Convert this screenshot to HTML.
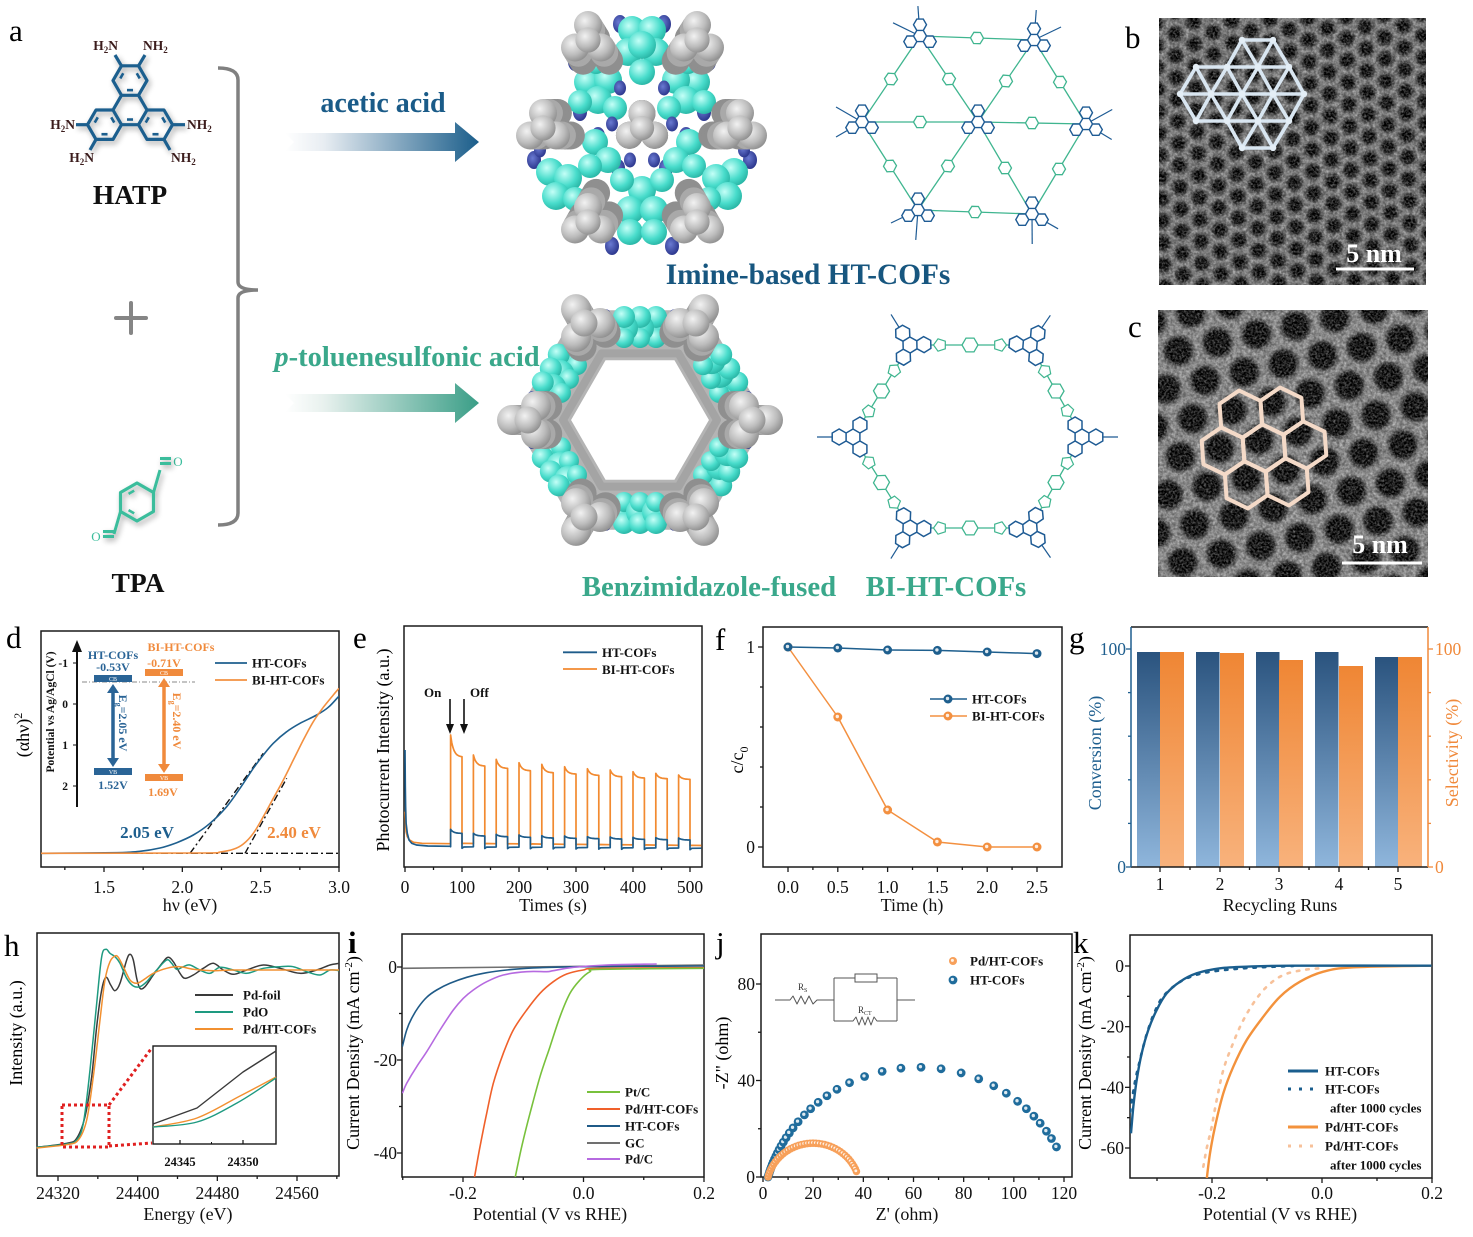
<!DOCTYPE html>
<html><head><meta charset="utf-8">
<style>
html,body{margin:0;padding:0;background:#fff;width:1473px;height:1237px;overflow:hidden}
svg{display:block}
text{font-family:"Liberation Serif","DejaVu Serif",serif}
</style></head><body>
<svg id="svg" width="1473" height="1237" viewBox="0 0 1473 1237" xmlns="http://www.w3.org/2000/svg">
<defs>
 <linearGradient id="ga1" x1="0" y1="0" x2="1" y2="0"><stop offset="0" stop-color="#ffffff"/><stop offset="0.2" stop-color="#e8edf2"/><stop offset="1" stop-color="#1b5e8b"/></linearGradient>
 <linearGradient id="ga2" x1="0" y1="0" x2="1" y2="0"><stop offset="0" stop-color="#ffffff"/><stop offset="0.2" stop-color="#e8f1ee"/><stop offset="1" stop-color="#3a9e87"/></linearGradient>
 <linearGradient id="gB" x1="0" y1="0" x2="0" y2="1"><stop offset="0" stop-color="#2a537e"/><stop offset="1" stop-color="#8fb6dc"/></linearGradient>
 <linearGradient id="gO" x1="0" y1="0" x2="0" y2="1"><stop offset="0" stop-color="#ef8634"/><stop offset="1" stop-color="#f8b27c"/></linearGradient>
 <radialGradient id="rg" cx="0.38" cy="0.35" r="0.7"><stop offset="0" stop-color="#f2f2f2"/><stop offset="0.6" stop-color="#bcbcbc"/><stop offset="1" stop-color="#8c8c8c"/></radialGradient>
 <radialGradient id="rc" cx="0.38" cy="0.35" r="0.7"><stop offset="0" stop-color="#c4fff7"/><stop offset="0.6" stop-color="#48dccb"/><stop offset="1" stop-color="#26b2a2"/></radialGradient>
 <radialGradient id="rn" cx="0.4" cy="0.4" r="0.7"><stop offset="0" stop-color="#6a7ad2"/><stop offset="1" stop-color="#242e84"/></radialGradient>
 <radialGradient id="pore" cx="0.5" cy="0.5" r="0.5"><stop offset="0" stop-color="#000"/><stop offset="0.6" stop-color="#060606"/><stop offset="1" stop-color="#000" stop-opacity="0"/></radialGradient>
 <radialGradient id="pore2" cx="0.5" cy="0.5" r="0.5"><stop offset="0" stop-color="#000"/><stop offset="0.72" stop-color="#050505"/><stop offset="1" stop-color="#000" stop-opacity="0"/></radialGradient>
 <pattern id="pb" width="22" height="38" patternUnits="userSpaceOnUse" patternTransform="rotate(-32 1290 150)">
  <rect width="22" height="38" fill="#848484"/>
  <circle cx="11" cy="9.5" r="10" fill="url(#pore)"/>
  <circle cx="0" cy="28.5" r="10" fill="url(#pore)"/>
  <circle cx="22" cy="28.5" r="10" fill="url(#pore)"/>
 </pattern>
 <pattern id="pc" width="40" height="69.28" patternUnits="userSpaceOnUse" patternTransform="rotate(-12 1293 443)">
  <rect width="40" height="69.28" fill="#8e8e8e"/>
  <circle cx="20" cy="17.32" r="17.3" fill="url(#pore2)"/>
  <circle cx="0" cy="51.96" r="17.3" fill="url(#pore2)"/>
  <circle cx="40" cy="51.96" r="17.3" fill="url(#pore2)"/>
 </pattern>
 <filter id="bl" x="-0.05" y="-0.05" width="1.1" height="1.1"><feGaussianBlur stdDeviation="1.4"/></filter>
 <filter id="nz" x="0" y="0" width="1" height="1"><feTurbulence type="fractalNoise" baseFrequency="0.45" numOctaves="2" seed="7"/><feColorMatrix type="matrix" values="0 0 0 0 1  0 0 0 0 1  0 0 0 0 1  1.6 0 0 0 -0.55"/></filter>
 <filter id="nz2" x="0" y="0" width="1" height="1"><feTurbulence type="fractalNoise" baseFrequency="0.3" numOctaves="2" seed="3"/><feColorMatrix type="matrix" values="0 0 0 0 0  0 0 0 0 0  0 0 0 0 0  1.4 0 0 0 -0.45"/></filter>
 <filter id="sh" x="-0.2" y="-0.2" width="1.4" height="1.4"><feGaussianBlur in="SourceAlpha" stdDeviation="3"/><feOffset dx="2" dy="3"/><feComponentTransfer><feFuncA type="linear" slope="0.35"/></feComponentTransfer><feMerge><feMergeNode/><feMergeNode in="SourceGraphic"/></feMerge></filter>
 <clipPath id="cb"><rect x="1159" y="18" width="267" height="267"/></clipPath>
 <clipPath id="cc"><rect x="1158" y="310" width="270" height="267"/></clipPath>
 <clipPath id="ci"><rect x="402" y="934" width="302" height="243"/></clipPath>
 <clipPath id="ck"><rect x="1130" y="935" width="302" height="243"/></clipPath>
 <clipPath id="cd"><rect x="41" y="631" width="298" height="236"/></clipPath>
</defs>

<text x="9" y="41" font-size="31">a</text>
<text x="1125" y="48" font-size="31">b</text>
<text x="1128" y="337" font-size="31">c</text>
<text x="6" y="648" font-size="31">d</text>
<text x="353" y="648" font-size="31">e</text>
<text x="715" y="650" font-size="31">f</text>
<text x="1069" y="648" font-size="31">g</text>
<text x="4" y="956" font-size="31">h</text>
<text x="348" y="953" font-size="31" font-weight="bold">i</text>
<text x="716" y="953" font-size="31">j</text>
<text x="1073" y="953" font-size="31">k</text>

<g font-size="13.5" fill="#3b1c1c" font-weight="bold">
 <text x="118" y="50" text-anchor="end">H<tspan dy="3" font-size="9">2</tspan><tspan dy="-3">N</tspan></text>
 <text x="143" y="50">NH<tspan dy="3" font-size="9">2</tspan></text>
 <text x="75" y="129" text-anchor="end">H<tspan dy="3" font-size="9">2</tspan><tspan dy="-3">N</tspan></text>
 <text x="187" y="129">NH<tspan dy="3" font-size="9">2</tspan></text>
 <text x="94" y="162" text-anchor="end">H<tspan dy="3" font-size="9">2</tspan><tspan dy="-3">N</tspan></text>
 <text x="171" y="162">NH<tspan dy="3" font-size="9">2</tspan></text>
</g>
<text x="130" y="204" font-size="27.5" font-weight="bold" text-anchor="middle" fill="#111">HATP</text>
<text x="138" y="592" font-size="27.5" font-weight="bold" text-anchor="middle" fill="#111">TPA</text>
<text x="178" y="466" font-size="13" fill="#3bbd9c" text-anchor="middle">O</text>
<text x="96" y="541" font-size="13" fill="#3bbd9c" text-anchor="middle">O</text>
<g stroke="#858585" stroke-width="4" stroke-linecap="round"><line x1="116" y1="318" x2="146" y2="318"/><line x1="131" y1="303" x2="131" y2="333"/></g>
<path d="M218 68 Q238 68 238 80 V282 Q238 290 258 290 Q238 290 238 298 V513 Q238 525 218 525" fill="none" stroke="#808080" stroke-width="3.5"/>
<polygon points="285,133 455,133 455,122 479,142 455,162 455,151 285,151 294,142" fill="url(#ga1)"/>
<polygon points="285,394 455,394 455,383 479,403 455,423 455,412 285,412 294,403" fill="url(#ga2)"/>
<text x="383" y="112" font-size="28" font-weight="bold" text-anchor="middle" fill="#1a5b88">acetic acid</text>
<text x="407" y="366" font-size="28.5" font-weight="bold" text-anchor="middle" fill="#3aa88b"><tspan font-style="italic">p</tspan>-toluenesulfonic acid</text>
<text x="808" y="284" font-size="29.3" font-weight="bold" text-anchor="middle" fill="#17567f">Imine-based HT-COFs</text>
<text x="709" y="596" font-size="28.8" font-weight="bold" text-anchor="middle" fill="#3aa88b">Benzimidazole-fused</text>
<text x="946" y="596" font-size="28.8" font-weight="bold" text-anchor="middle" fill="#3aa88b">BI-HT-COFs</text>

<g clip-path="url(#cb)">
 <rect x="1150" y="10" width="285" height="285" fill="url(#pb)" filter="url(#bl)"/>
 <rect x="1159" y="18" width="267" height="267" filter="url(#nz)" opacity="0.55"/>
 <rect x="1159" y="18" width="267" height="267" filter="url(#nz2)" opacity="0.5"/>
</g>
<g clip-path="url(#cc)">
 <rect x="1150" y="300" width="290" height="290" fill="url(#pc)" filter="url(#bl)"/>
 <rect x="1158" y="310" width="270" height="267" filter="url(#nz)" opacity="0.55"/>
 <rect x="1158" y="310" width="270" height="267" filter="url(#nz2)" opacity="0.5"/>
</g>
<g id="ovl"></g>
<line x1="1336" y1="269" x2="1414" y2="269" stroke="#fff" stroke-width="3"/>
<text x="1374" y="262" font-size="26" font-weight="bold" fill="#fff" text-anchor="middle">5 nm</text>
<line x1="1342" y1="563" x2="1422" y2="563" stroke="#fff" stroke-width="3"/>
<text x="1380" y="553" font-size="26" font-weight="bold" fill="#fff" text-anchor="middle">5 nm</text>

<text x="29" y="735" transform="rotate(-90 29 735)" text-anchor="middle" font-size="18">(αhν)<tspan dy="-7" font-size="12">2</tspan></text>
<text x="389" y="750" transform="rotate(-90 389 750)" text-anchor="middle" font-size="18">Photocurrent Intensity (a.u.)</text>
<text x="743" y="760" transform="rotate(-90 743 760)" text-anchor="middle" font-size="18">c/c<tspan dy="5" font-size="12">0</tspan></text>
<text x="1101" y="753" transform="rotate(-90 1101 753)" text-anchor="middle" font-size="18" fill="#1f5f8f">Conversion (%)</text>
<text x="1458" y="753" transform="rotate(-90 1458 753)" text-anchor="middle" font-size="18" fill="#f08a3c">Selectivity (%)</text>
<text x="22" y="1033" transform="rotate(-90 22 1033)" text-anchor="middle" font-size="18">Intensity (a.u.)</text>
<text x="359" y="1053" transform="rotate(-90 359 1053)" text-anchor="middle" font-size="18">Current Density (mA cm<tspan dy="-7" font-size="11">-2</tspan><tspan dy="7">)</tspan></text>
<text x="728" y="1053" transform="rotate(-90 728 1053)" text-anchor="middle" font-size="18">-Z" (ohm)</text>
<text x="1091" y="1053" transform="rotate(-90 1091 1053)" text-anchor="middle" font-size="18">Current Density (mA cm<tspan dy="-7" font-size="11">-2</tspan><tspan dy="7">)</tspan></text>

<text x="54" y="712" transform="rotate(-90 54 712)" text-anchor="middle" font-size="11.5" font-weight="bold" fill="#111">Potential vs Ag/AgCl (V)</text>
<g font-size="12" font-weight="bold" text-anchor="middle">
 <text x="113" y="659" fill="#2a6496">HT-COFs</text>
 <text x="113" y="671" fill="#2a6496">-0.53V</text>
 <text x="113" y="789" fill="#2a6496">1.52V</text>
 <text x="181" y="651" fill="#f08a3c">BI-HT-COFs</text>
 <text x="164" y="667" fill="#f08a3c">-0.71V</text>
 <text x="163" y="796" fill="#f08a3c">1.69V</text>
</g>
<text x="119" y="723" transform="rotate(90 119 723)" text-anchor="middle" font-size="12" font-weight="bold" fill="#2a6496">E<tspan dy="3" font-size="8">g</tspan><tspan dy="-3">=2.05 eV</tspan></text>
<text x="173" y="721" transform="rotate(90 173 721)" text-anchor="middle" font-size="12" font-weight="bold" fill="#f08a3c">E<tspan dy="3" font-size="8">g</tspan><tspan dy="-3">=2.40 eV</tspan></text>

<text x="798" y="990" font-size="9" fill="#333">R<tspan dy="2" font-size="6">S</tspan></text>
<text x="858" y="1013" font-size="9" fill="#333">R<tspan dy="2" font-size="6">CT</tspan></text>
<text x="866" y="981" font-size="7" fill="#333" text-anchor="middle">CPE</text>

<g id="dyn"></g>
</svg>
<script>
(function(){
const NS='http://www.w3.org/2000/svg';
const SV=document.getElementById('dyn');
function E(t,a,p,s){const e=document.createElementNS(NS,t);for(const k in a)e.setAttribute(k,a[k]);if(s!=null)e.textContent=s;(p||SV).appendChild(e);return e;}
function L(d0,d1,p0,p1){return function(v){return p0+(v-d0)*(p1-p0)/(d1-d0);};}
function f1(v){return (Math.round(v*10)/10).toString();}
function sm(P){let d='M'+f1(P[0][0])+' '+f1(P[0][1]);for(let i=0;i<P.length-1;i++){const p0=P[i>0?i-1:i],p1=P[i],p2=P[i+1],p3=P[i+2<P.length?i+2:i+1];d+=' C'+f1(p1[0]+(p2[0]-p0[0])/6)+' '+f1(p1[1]+(p2[1]-p0[1])/6)+' '+f1(p2[0]-(p3[0]-p1[0])/6)+' '+f1(p2[1]-(p3[1]-p1[1])/6)+' '+f1(p2[0])+' '+f1(p2[1]);}return d;}
function pl(P){return 'M'+P.map(function(p){return f1(p[0])+' '+f1(p[1]);}).join(' L');}
function Z(P,ox,oy){return P.map(function(p){return [p[0]/3+ox,p[1]/3+oy];});}
function T(x,y,s,o,p){return E('text',Object.assign({x:x,y:y,'font-size':17.5,'text-anchor':'middle',fill:'#111'},o||{}),p,s);}
function frame(x0,y0,x1,y1){E('rect',{x:x0,y:y0,width:x1-x0,height:y1-y0,fill:'none',stroke:'#1a1a1a','stroke-width':1.5});}
function tx(x,y,len,c){E('line',{x1:x,y1:y,x2:x,y2:y+len,stroke:c||'#1a1a1a','stroke-width':1.3});}
function ty(x,y,len,c){E('line',{x1:x,y1:y,x2:x-len,y2:y,stroke:c||'#1a1a1a','stroke-width':1.3});}
function cur(d,c,w,ex,p){return E('path',Object.assign({d:d,fill:'none',stroke:c,'stroke-width':w||1.6,'stroke-linejoin':'round'},ex||{}),p);}
function hexPts(cx,cy,r,rot){const p=[];for(let i=0;i<6;i++){const a=(rot+60*i)*Math.PI/180;p.push([cx+r*Math.cos(a),cy-r*Math.sin(a)]);}return p;}
function hexPath(cx,cy,r,rot){return pl(hexPts(cx,cy,r,rot))+' Z';}
function polyPath(cx,cy,r,n,rot){const p=[];for(let i=0;i<n;i++){const a=(rot+360/n*i)*Math.PI/180;p.push([cx+r*Math.cos(a),cy-r*Math.sin(a)]);}return pl(p)+' Z';}
function triph(cx,cy,s,rot){let d=hexPath(cx,cy,s,rot);const D=s*Math.sqrt(3);[90,210,330].forEach(function(a){const A=(a+rot)*Math.PI/180;d+=' '+hexPath(cx+D*Math.cos(A),cy-D*Math.sin(A),s,rot);});return d;}
function leg(x1,x2,y,c,w,ex){E('line',Object.assign({x1:x1,y1:y,x2:x2,y2:y,stroke:c,'stroke-width':w||2},ex||{}));}
function LT(x,y,s,c){T(x,y,s,{'font-size':13,'font-weight':'bold','text-anchor':'start',fill:c||'#111'});}

const GA=E('g',{filter:'url(#sh)'});
const B='#1d5f8e';
E('path',{d:triph(130,110,17,0),fill:'none',stroke:B,'stroke-width':3.2,'stroke-linejoin':'round'},GA);
[[138.5,65.9,145,55],[121.5,65.9,115,55],[87.5,124.7,76,124.7],[96,139.4,90,150],[172.5,124.7,185,124.7],[164,139.4,170,150]].forEach(function(b){E('line',{x1:b[0],y1:b[1],x2:b[2],y2:b[3],stroke:B,'stroke-width':3.2},GA);});
[[130,80.6],[104.5,124.7],[155.5,124.7],[130,110]].forEach(function(c,j){const P=hexPts(c[0],c[1],11,0);[0,2,4].forEach(function(i){if(j==3&&i!=4)return;const a=P[i],b=P[(i+1)%6];const mx=(a[0]+b[0])/2,my=(a[1]+b[1])/2;E('line',{x1:mx+(a[0]-mx)*0.55,y1:my+(a[1]-my)*0.55,x2:mx+(b[0]-mx)*0.55,y2:my+(b[1]-my)*0.55,stroke:B,'stroke-width':2.6},GA);});});
const GT=E('g',{filter:'url(#sh)'});
const TC='#3bbd9c';
E('path',{d:hexPath(137,502,19,30),fill:'none',stroke:TC,'stroke-width':3.2,'stroke-linejoin':'round'},GT);
E('path',{d:'M153.5 492.5 L160 470 M160 458.5 L171 458.5 M160 463.5 L171 463.5 M120.5 511.5 L114 534 M114 531.5 L103 531.5 M114 536.5 L103 536.5',fill:'none',stroke:TC,'stroke-width':3},GT);
(function(){const P=hexPts(137,502,13,30);[1,3].forEach(function(i){const a=P[i],b=P[(i+1)%6];const mx=(a[0]+b[0])/2,my=(a[1]+b[1])/2;E('line',{x1:mx+(a[0]-mx)*0.5,y1:my+(a[1]-my)*0.5,x2:mx+(b[0]-mx)*0.5,y2:my+(b[1]-my)*0.5,stroke:TC,'stroke-width':2.6},GT);});})();

const M1=E('g',{});
function circ(cx,cy,r,f,p){E('circle',{cx:cx,cy:cy,r:r,fill:f},p);}
function tri(cx,cy,r,d,f,rot,p){[rot,rot+120,rot+240].forEach(function(a){const A=a*Math.PI/180;circ(cx+d*Math.cos(A),cy-d*Math.sin(A),r,f,p);});circ(cx,cy,r*0.9,f,p);}
function grayNode(cx,cy,r,d,rot,dx,dy,p){for(let k=5;k>=1;k--){tri(cx+dx*k,cy+dy*k,r,d,k>2?'#8f8f8f':'#a9a9a9',rot,p);}tri(cx,cy,r,d,'url(#rg)',rot,p);}
const gc=[642,128];
const nodes1=[[588,40],[697,40],[543,128],[740,128],[588,222],[697,222]];
[[612,62],[672,62],[575,62],[709,62],[580,112],[704,112],[600,190],[684,190],[618,168],[666,168],[534,160],[750,160],[612,246],[672,246],[598,136],[686,136],[620,24],[664,24]].forEach(function(n){E('ellipse',{cx:n[0],cy:n[1],rx:7,ry:9,fill:'url(#rn)'},M1);});
const cy1=[[632,30,14],[652,30,14],[628,52,14],[656,52,14],[642,72,13],[642,45,14],
[642,190,14],[630,210,14],[654,210,14],[630,232,13],[654,232,13],
[588,82,14],[608,80,14],[598,100,14],[615,108,12],[580,102,12],[596,64,10],
[696,82,14],[676,80,14],[686,100,14],[669,108,12],[704,102,12],[688,64,10],
[595,142,13],[608,160,13],[590,166,12],[689,142,13],[676,160,13],[694,166,12],
[622,180,12],[662,180,12],
[550,172,14],[568,178,14],[556,196,14],[575,199,12],[734,172,14],[716,178,14],[728,196,14],[709,199,12]];
cy1.forEach(function(c){circ(c[0],c[1],c[2],'url(#rc)',M1);});
[[620,88],[664,88],[612,124],[672,124],[630,160],[654,160],[540,150],[744,150],[592,200],[692,200]].forEach(function(n){E('ellipse',{cx:n[0],cy:n[1],rx:6,ry:7.5,fill:'url(#rn)'},M1);});
nodes1.forEach(function(n){const dx=(gc[0]-n[0])*0.03,dy=(gc[1]-n[1])*0.03;grayNode(n[0],n[1],14,15,90,dx,dy,M1);});
grayNode(642,128,13.5,14.5,90,0,0,M1);

const M2=E('g',{});
const C2=[640,420];
const V2=[];
for(let i=0;i<6;i++){const a=i*60*Math.PI/180;V2.push([C2[0]+104*Math.cos(a),C2[1]-104*Math.sin(a)]);}
E('path',{d:pl(V2.map(function(v){return [C2[0]+(v[0]-C2[0])*0.94,C2[1]+(v[1]-C2[1])*0.94];}))+' Z',fill:'none',stroke:'#b4b4b4','stroke-width':50,'stroke-linejoin':'round'},M2);
E('path',{d:pl(V2.map(function(v){return [C2[0]+(v[0]-C2[0])*0.74,C2[1]+(v[1]-C2[1])*0.74];}))+' Z',fill:'none',stroke:'#9a9a9a','stroke-width':8,'stroke-linejoin':'round',opacity:0.6},M2);
for(let i=0;i<6;i++){const a=(30+i*60)*Math.PI/180;const mx=C2[0]+92*Math.cos(a),my=C2[1]-92*Math.sin(a);const tx_=-Math.sin(a),ty_=-Math.cos(a);
 [[-32,1],[32,1]].forEach(function(o){E('ellipse',{cx:mx+tx_*o[0],cy:my+ty_*o[0],rx:6.5,ry:8,fill:'url(#rn)'},M2);});
 [[-34,-16],[34,-16],[-34,16],[34,16]].forEach(function(o){const rr=o[1]*Math.cos(a),r2=-o[1]*Math.sin(a);E('ellipse',{cx:mx+tx_*o[0]+rr*0.8,cy:my+ty_*o[0]+r2*0.8,rx:5,ry:6,fill:'url(#rn)'},M2);});
 [-16,0,16].forEach(function(t){circ(mx+tx_*t,my+ty_*t,14,'url(#rc)',M2);circ(mx+tx_*t+Math.cos(a)*11,my+ty_*t-Math.sin(a)*11,11,'url(#rc)',M2);circ(mx+tx_*t-Math.cos(a)*10,my+ty_*t+Math.sin(a)*10,10,'url(#rc)',M2);});
}
V2.forEach(function(v,i){const a=i*60;const vx=C2[0]+112*Math.cos(a*Math.PI/180),vy=C2[1]-112*Math.sin(a*Math.PI/180);grayNode(vx,vy,15,16,a,-(vx-C2[0])*0.02,-(vy-C2[1])*0.02,M2);});

const S1=E('g',{});
const GR='#3fb58f',BL='#1e5b94';
function link(a,b,r,p){E('line',{x1:a[0],y1:a[1],x2:b[0],y2:b[1],stroke:GR,'stroke-width':1.3},p);const mx=(a[0]+b[0])/2,my=(a[1]+b[1])/2,ang=Math.atan2(-(b[1]-a[1]),b[0]-a[0])*180/Math.PI;E('path',{d:hexPath(mx,my,r,ang),fill:'#fff',stroke:GR,'stroke-width':1.3},p);}
const N1=[[920,36],[1034,40],[862,122],[978,122],[1086,124],[918,210],[1032,214]];
[[0,1],[0,2],[1,4],[2,5],[4,6],[5,6],[3,0],[3,1],[3,2],[3,4],[3,5],[3,6]].forEach(function(l){link(N1[l[0]],N1[l[1]],6.5,S1);});
N1.forEach(function(n,i){if(i!=3){const dx=n[0]-978,dy=n[1]-122,L_=Math.hypot(dx,dy);const ux=dx/L_,uy=dy/L_;[[-0.5,0.866],[0.5,0.866]].forEach(function(r){const vx=ux*r[1]-uy*r[0],vy=uy*r[1]+ux*r[0];E('line',{x1:n[0],y1:n[1],x2:n[0]+vx*30,y2:n[1]+vy*30,stroke:BL,'stroke-width':1.2},S1);});}
 E('path',{d:triph(n[0],n[1],6.5,0),fill:'#fff',stroke:BL,'stroke-width':1.4},S1);});

const S2=E('g',{});
const Q=[[910,345],[1030,345],[1082,437],[1030,528],[910,528],[853,437]];
for(let i=0;i<6;i++){const a=Q[i],b=Q[(i+1)%6];link(a,b,8,S2);const dx=b[0]-a[0],dy=b[1]-a[1],Ln=Math.hypot(dx,dy);[[a,1],[b,-1]].forEach(function(o){const px=o[0][0]+dx/Ln*30*o[1],py=o[0][1]+dy/Ln*30*o[1];E('path',{d:polyPath(px,py,6.5,5,Math.atan2(-dy*o[1],dx*o[1])*180/Math.PI+180),fill:'#fff',stroke:GR,'stroke-width':1.2},S2);});}
Q.forEach(function(n){const dx=n[0]-967,dy=n[1]-437,L_=Math.hypot(dx,dy);E('line',{x1:n[0],y1:n[1],x2:n[0]+dx/L_*36,y2:n[1]+dy/L_*36,stroke:BL,'stroke-width':1.2},S2);E('path',{d:triph(n[0],n[1],8,Math.atan2(-dy,dx)*180/Math.PI-90),fill:'#fff',stroke:BL,'stroke-width':1.5},S2);});

const OV=document.getElementById('ovl');
const rows=[[40,[1242,1273]],[67,[1196,1227,1258,1289]],[94,[1180,1211,1242,1273,1304]],[121,[1196,1227,1258,1289]],[148,[1242,1273]]];
const pts=[];rows.forEach(function(r){r[1].forEach(function(x){pts.push([x,r[0]]);});});
for(let i=0;i<pts.length;i++)for(let j=i+1;j<pts.length;j++){const d=Math.hypot(pts[i][0]-pts[j][0],pts[i][1]-pts[j][1]);if(d<33)E('line',{x1:pts[i][0],y1:pts[i][1],x2:pts[j][0],y2:pts[j][1],stroke:'#d9e6f1','stroke-width':3.6,'stroke-linecap':'round'},OV);}
pts.forEach(function(p){E('circle',{cx:p[0],cy:p[1],r:3.2,fill:'#e4eef6'},OV);});
const hc=[1264,448],a1=[41,-3],a2=[17.8,-36.9];
[[0,0],[1,0],[-1,0],[0,1],[0,-1],[1,-1],[-1,1]].forEach(function(k){const cx=hc[0]+k[0]*a1[0]+k[1]*a2[0],cy=hc[1]+k[0]*a1[1]+k[1]*a2[1];E('path',{d:hexPath(cx,cy,23.7,34.2),fill:'none',stroke:'#f4dac8','stroke-width':4,'stroke-linejoin':'round'},OV);});

(function(){
frame(41,631,339,867);
const fx=L(1.5,3,104,339);
[1.5,2,2.5,3].forEach(function(v){tx(fx(v),867,5);T(fx(v),893,v.toFixed(1));});
[1.25,1.75,2.25,2.75].forEach(function(v){tx(fx(v),867,3);});
T(190,911,'hν (eV)',{'font-size':18});
const g=E('g',{'clip-path':'url(#cd)'});
cur('M41 853.3 L339 853.3','#111',1.4,{'stroke-dasharray':'7 3 2 3'},g);
cur(pl(Z([[570,700],[790,400]],0,620)),'#111',1.4,{'stroke-dasharray':'7 3 2 3'},g);
cur(pl(Z([[735,700],[860,475]],0,620)),'#111',1.4,{'stroke-dasharray':'7 3 2 3'},g);
cur(sm(Z([[122,700],[350,698],[420,694],[480,684],[530,668],[580,645],[630,610],[680,560],[720,505],[760,445],[790,405],[820,370],[860,335],[900,310],[950,285],[985,262],[1017,228]],0,620)),'#1e5f8e',1.6,{},g);
cur(sm(Z([[122,700],[600,699],[660,696],[700,688],[730,672],[760,640],[790,590],[820,535],[850,480],[880,420],[910,360],[940,305],[970,262],[1000,225],[1017,205]],0,620)),'#f39040',1.6,{},g);
T(147,838,'2.05 eV',{'font-size':17,'font-weight':'bold',fill:'#1e5f8e'});
T(294,838,'2.40 eV',{'font-size':17,'font-weight':'bold',fill:'#f08a3c'});
leg(215,247,663,'#1e5f8e',1.8);LT(252,667.5,'HT-COFs');
leg(215,247,680,'#f39040',1.8);LT(252,684.5,'BI-HT-COFs');
E('line',{x1:77,y1:807,x2:77,y2:650,stroke:'#111','stroke-width':2});
E('polygon',{points:'72,652 82,652 77,640',fill:'#111'});
[['-1',663],['0',704],['1',745],['2',786]].forEach(function(t){T(68,t[1]+4,t[0],{'font-size':11.5,'font-weight':'bold','text-anchor':'end'});E('line',{x1:73,y1:t[1],x2:77,y2:t[1],stroke:'#111','stroke-width':1});});
E('line',{x1:82,y1:682,x2:195,y2:682,stroke:'#8a8a8a','stroke-width':1.1,'stroke-dasharray':'5 2 1 2'});
E('rect',{x:94,y:675,width:38,height:7,fill:'#2a6496'});T(113,681,'CB',{'font-size':6,fill:'#fff'});
E('rect',{x:94,y:768,width:38,height:7,fill:'#2a6496'});T(113,774,'VB',{'font-size':6,fill:'#fff'});
E('rect',{x:145,y:669,width:38,height:7,fill:'#f08a3c'});T(164,675,'CB',{'font-size':6,fill:'#fff'});
E('rect',{x:145,y:774,width:38,height:7,fill:'#f08a3c'});T(164,780,'VB',{'font-size':6,fill:'#fff'});
E('line',{x1:113,y1:692,x2:113,y2:759,stroke:'#2a6496','stroke-width':3.5});
E('polygon',{points:'107,693 119,693 113,684',fill:'#2a6496'});E('polygon',{points:'107,758 119,758 113,767',fill:'#2a6496'});
E('line',{x1:164,y1:686,x2:164,y2:765,stroke:'#f08a3c','stroke-width':3.5});
E('polygon',{points:'158,687 170,687 164,678',fill:'#f08a3c'});E('polygon',{points:'158,764 170,764 164,773',fill:'#f08a3c'});
})();

(function(){
frame(404,626,702,867);
const fx=L(0,500,405,690);
for(let v=0;v<=500;v+=100){tx(fx(v),867,5);T(fx(v),893,String(v));}
for(let v=50;v<=500;v+=100)tx(fx(v),867,3);
T(553,911,'Times (s)',{'font-size':18});
const o=[],b=[];
[[0,575],[1,610],[2,635],[4,650],[8,660],[15,667],[30,670],[79.9,671]].forEach(function(p){o.push(p);});
[[0,390],[0.5,500],[1,560],[2,610],[4,640],[7,660],[12,670],[20,675],[40,678],[79.9,679]].forEach(function(p){b.push(p);});
const po=[345,405,418,428,433,440,446,450,455,460,465],eo=[410,438,445,452,458,462,466,470,474,476,478];
const pb=[628,640,643,645,647,648,650,651,652,653,654],eb=[640,648,650,652,654,655,656,657,658,659,660];
for(let k=0;k<11;k++){const ton=80+40*k,toff=ton+20;const dko=670+0.6*k,dkb=680+0.4*k;
 o.push([ton,dko]);b.push([ton,dkb]);
 for(let t=0;t<=20;t++){const f=(1-Math.exp(-t/5))/(1-Math.exp(-4));o.push([ton+t,po[k]+(eo[k]-po[k])*f]);b.push([ton+t,pb[k]+(eb[k]-pb[k])*f]);}
 o.push([toff,dko+1]);b.push([toff,dkb+5]);
 o.push([toff+3,dko]);b.push([toff+3,dkb+1]);
 const nx=k<10?ton+40:520;o.push([nx-0.1,dko+0.5]);b.push([nx-0.1,dkb+0.5]);}
const M=function(P){return P.map(function(p){return [fx(p[0]),p[1]/3+620];});};
cur(pl(M(o)),'#f28a30',1.7);
cur(pl(M(b)),'#1e5c8a',1.7);
leg(563,597,652.3,'#1e5c8a',1.8);LT(602,657,'HT-COFs');
leg(563,597,669,'#f28a30',1.8);LT(602,674,'BI-HT-COFs');
LT(424,697,'On');LT(470,697,'Off');
[450,464].forEach(function(x){E('line',{x1:x,y1:699,x2:x,y2:726,stroke:'#111','stroke-width':1.6});E('polygon',{points:(x-4)+',724 '+(x+4)+',724 '+x+',734',fill:'#111'});});
})();

(function(){
frame(763,627,1062,867);
const fx=L(0,2.5,788,1037),fy=L(0,1,847,647);
for(let i=0;i<=5;i++){const v=i*0.5;tx(fx(v),867,5);T(fx(v),893,v.toFixed(1));}
for(let i=0;i<5;i++)tx(fx(i*0.5+0.25),867,3);
ty(763,fy(0),5);ty(763,fy(1),5);[0.2,0.4,0.6,0.8].forEach(function(v){ty(763,fy(v),3);});
T(755,fy(0)+6,'0',{'text-anchor':'end'});T(755,fy(1)+6,'1',{'text-anchor':'end'});
T(912,911,'Time (h)',{'font-size':18});
const t=[0,0.5,1,1.5,2,2.5],h=[1,0.995,0.985,0.983,0.975,0.967],bi=[1,0.65,0.185,0.025,0,0];
function mk(x,y,c){E('circle',{cx:x,cy:y,r:4.5,fill:c});E('circle',{cx:x-0.5,cy:y-0.5,r:1.7,fill:'#fff',opacity:0.85});}
cur(pl(t.map(function(v,i){return [fx(v),fy(bi[i])];})),'#f39040',1.5);
cur(pl(t.map(function(v,i){return [fx(v),fy(h[i])];})),'#1e5f8e',1.5);
t.forEach(function(v,i){mk(fx(v),fy(bi[i]),'#f39040');mk(fx(v),fy(h[i]),'#1e5f8e');});
leg(930,967,699,'#1e5f8e',1.6);mk(948,699,'#1e5f8e');LT(972,703.5,'HT-COFs');
leg(930,967,716,'#f39040',1.6);mk(948,716,'#f39040');LT(972,720.5,'BI-HT-COFs');
})();

(function(){
const fy=L(0,100,867,649);
const bars=[[1137,652,1160,652],[1196,652,1220,653],[1256,652,1279,660],[1315,652,1339,666],[1375,657,1398,657]];
bars.forEach(function(b){E('rect',{x:b[0],y:b[1],width:23.5,height:867-b[1],fill:'url(#gB)'});E('rect',{x:b[2],y:b[3],width:24,height:867-b[3],fill:'url(#gO)'});});
E('line',{x1:1131,y1:627,x2:1428,y2:627,stroke:'#1a1a1a','stroke-width':1.5});
E('line',{x1:1131,y1:867,x2:1428,y2:867,stroke:'#1a1a1a','stroke-width':1.5});
E('line',{x1:1131,y1:627,x2:1131,y2:867,stroke:'#1f5f8f','stroke-width':1.5});
E('line',{x1:1428,y1:627,x2:1428,y2:867,stroke:'#f08a3c','stroke-width':1.5});
[1160,1220,1279,1339,1398].forEach(function(x,i){tx(x,867,5);T(x,890,String(i+1));});
[1190,1249.5,1309,1368.5].forEach(function(x){tx(x,867,3);});
[0,100].forEach(function(v){ty(1131,fy(v),5,'#1f5f8f');E('line',{x1:1428,y1:fy(v),x2:1433,y2:fy(v),stroke:'#f08a3c','stroke-width':1.3});});
[20,40,60,80].forEach(function(v){ty(1131,fy(v),3,'#1f5f8f');E('line',{x1:1428,y1:fy(v),x2:1431,y2:fy(v),stroke:'#f08a3c','stroke-width':1.3});});
T(1126,655,'100',{'text-anchor':'end',fill:'#1f5f8f'});T(1126,873,'0',{'text-anchor':'end',fill:'#1f5f8f'});
T(1435,655,'100',{'text-anchor':'start',fill:'#f08a3c'});T(1435,873,'0',{'text-anchor':'start',fill:'#f08a3c'});
T(1280,911,'Recycling Runs',{'font-size':18});
})();

(function(){
frame(37,933,339,1176);
const fx=L(24320,24560,58,297);
[24320,24400,24480,24560].forEach(function(v){tx(fx(v),1176,5);T(fx(v),1199,String(v));});
[24360,24440,24520,24600].forEach(function(v){if(fx(v)<339)tx(fx(v),1176,3);});
T(188,1220,'Energy (eV)',{'font-size':18});
const oy=920;
cur(sm(Z([[110,682],[200,670],[230,655],[255,590],[275,470],[290,320],[305,210],[318,172],[332,195],[345,212],[360,190],[380,120],[390,103],[400,120],[410,175],[420,205],[435,200],[460,165],[490,125],[505,112],[520,125],[540,160],[555,175],[580,165],[610,145],[640,130],[670,150],[700,163],[740,150],[790,135],[840,145],[900,160],[950,150],[990,135],[1017,130]],0,oy)),'#3a3a3a',1.5);
cur(sm(Z([[110,682],[200,672],[230,660],[250,610],[270,450],[290,250],[305,110],[318,88],[330,100],[345,110],[360,130],[380,175],[400,198],[420,200],[440,185],[470,150],[500,120],[515,130],[530,148],[550,140],[570,135],[600,150],[630,160],[660,142],[700,150],[740,160],[790,145],[840,140],[880,140],[920,155],[960,165],[990,150],[1017,152]],0,oy)),'#1e9a80',1.5);
cur(sm(Z([[110,684],[200,674],[235,660],[260,600],[280,470],[300,300],[315,180],[330,125],[345,108],[355,112],[370,140],[390,180],[410,190],[430,180],[460,160],[500,145],[540,140],[580,148],[640,152],[700,150],[800,150],[900,150],[1017,150]],0,oy)),'#f29030',1.5);
leg(195,233,995,'#3a3a3a',2);LT(243,999.5,'Pd-foil');
leg(195,233,1012,'#1e9a80',2);LT(243,1016.5,'PdO');
leg(195,233,1029,'#f29030',2);LT(243,1033.5,'Pd/HT-COFs');
E('rect',{x:62,y:1105,width:47,height:42,fill:'none',stroke:'#e02020','stroke-width':3,'stroke-dasharray':'3 3'});
E('line',{x1:109,y1:1105,x2:151,y2:1049,stroke:'#e02020','stroke-width':3,'stroke-dasharray':'3 3'});
E('line',{x1:109,y1:1146,x2:152,y2:1143,stroke:'#e02020','stroke-width':3,'stroke-dasharray':'3 3'});
E('rect',{x:153,y:1046,width:123,height:98,fill:'#fff',stroke:'#1a1a1a','stroke-width':1.4});
cur(pl([[153,1124],[197,1108],[243,1072],[276,1051]]),'#3a3a3a',1.4);
cur(sm([[153,1127],[197,1118],[240,1096],[276,1077]]),'#f29030',1.4);
cur(sm([[153,1127],[197,1122],[237,1103],[276,1078]]),'#1e9a80',1.4);
[180,243].forEach(function(x){E('line',{x1:x,y1:1144,x2:x,y2:1140,stroke:'#111','stroke-width':1.2});});
E('line',{x1:211.5,y1:1144,x2:211.5,y2:1142,stroke:'#111','stroke-width':1});
T(180,1166,'24345',{'font-size':12.5,'font-weight':'bold'});T(243,1166,'24350',{'font-size':12.5,'font-weight':'bold'});
})();

(function(){
frame(402,934,704,1177);
const fx=L(-0.2,0.2,463,704),fy=L(0,-40,967,1153);
[-0.2,0,0.2].forEach(function(v){tx(fx(v),1177,5);T(fx(v),1199,v.toFixed(1));});
[-0.3,-0.1,0.1].forEach(function(v){tx(fx(v),1177,3);});
[0,-20,-40].forEach(function(v){ty(402,fy(v),5);T(397,fy(v)+6,String(v),{'text-anchor':'end'});});
[-10,-30].forEach(function(v){ty(402,fy(v),3);});
T(550,1220,'Potential (V vs RHE)',{'font-size':18});
const g=E('g',{'clip-path':'url(#ci)'});
const oy=920,ox=340;
cur(pl(Z([[187,145],[1092,135]],ox,oy)),'#707070',1.6,{},g);
cur(sm(Z([[187,380],[200,330],[215,295],[235,262],[260,232],[290,210],[330,190],[380,172],[440,158],[520,148],[600,143],[733,140],[1092,138]],ox,oy)),'#1f5a87',1.6,{},g);
cur(sm(Z([[187,520],[200,490],[230,440],[260,395],[300,330],[340,270],[370,235],[400,210],[440,185],[490,165],[560,155],[620,155],[640,152],[700,142],[800,135],[950,132]],ox,oy)),'#b66ae0',1.6,{},g);
cur(sm(Z([[403,775],[420,680],[440,580],[460,490],[490,400],[520,330],[560,270],[600,220],[640,185],[680,162],[730,150],[780,145],[1092,143]],ox,oy)),'#f0602a',1.6,{},g);
cur(sm(Z([[525,775],[545,680],[570,580],[600,470],[630,380],[660,290],[690,220],[720,180],[750,155],[780,148],[1092,145]],ox,oy)),'#78c13c',1.6,{},g);
[['Pt/C','#78c13c',1092],['Pd/HT-COFs','#f0602a',1109],['HT-COFs','#1f5a87',1126],['GC','#707070',1143],['Pd/C','#b66ae0',1159]].forEach(function(l){leg(587,620,l[2],l[1],2);LT(625,l[2]+4.5,l[0]);});
})();

(function(){
frame(761,934,1072,1177);
const fx=L(0,120,763,1064),fy=L(0,80,1177,984);
for(let v=0;v<=120;v+=20){tx(fx(v),1177,5);T(fx(v),1199,String(v));}
for(let v=10;v<120;v+=20)tx(fx(v),1177,3);
[0,40,80].forEach(function(v){ty(761,fy(v),5);T(755,fy(v)+6,String(v),{'text-anchor':'end'});});
[20,60].forEach(function(v){ty(761,fy(v),3);});
T(907,1220,"Z' (ohm)",{'font-size':18});
const c='#555';
cur('M775 1000 L790 1000 L793 996 L797 1004 L801 996 L805 1004 L809 996 L813 1004 L817 1000 L834 1000 M834 978 L834 1021 M897 978 L897 1021 M834 978 L855 978 M877 978 L897 978 M834 1021 L853 1021 L856 1017 L859 1025 L862 1017 L865 1025 L868 1017 L871 1025 L874 1017 L877 1021 L897 1021 M897 1000 L915 1000',c,1);
E('rect',{x:855,y:974,width:22,height:8,fill:'#fff',stroke:c,'stroke-width':1});
function mk(x,y,col,r){E('circle',{cx:x,cy:y,r:r,fill:col});E('circle',{cx:x-0.6,cy:y-0.6,r:r*0.38,fill:'#fff',opacity:0.85});}
const zs=[2,2.2,2.4,2.7,3,3.3,3.7,4.1,4.6,5.1,5.7,6.4,7.2,8.1,9.2,10.5,12,14,16.5,19,22,25.5,29.5,34.5,40.5,47.5,55,63,71,79,86,92,97,101.5,105,108,110.5,113,115,117];
zs.forEach(function(x){const dx=x-62;const y=Math.max(0,-16.8+Math.sqrt(Math.max(0,3881.3-dx*dx)));mk(fx(x),fy(y),'#1f6c9c',4.4);});
const R=18.57;
for(let th=165.8;th>=19.6;th-=3.6){const a=th*Math.PI/180;const x=20+R*Math.cos(a),y=Math.max(0,-4.57+R*Math.sin(a));mk(fx(x),fy(y),'#f7a05a',3.8);}
mk(953,961,'#f7a05a',4);LT(970,965.5,'Pd/HT-COFs');
mk(953,980,'#1f6c9c',4.4);LT(970,984.5,'HT-COFs');
})();

(function(){
frame(1130,935,1432,1178);
const fx=L(-0.2,0.2,1212,1432),fy=L(0,-60,966,1148);
[-0.2,0,0.2].forEach(function(v){tx(fx(v),1178,5);T(fx(v),1199,v.toFixed(1));});
[-0.3,-0.1,0.1].forEach(function(v){tx(fx(v),1178,3);});
[0,-20,-40,-60].forEach(function(v){ty(1130,fy(v),5);T(1124,fy(v)+6,String(v),{'text-anchor':'end'});});
[-10,-30,-50].forEach(function(v){ty(1130,fy(v),3);});
T(1280,1220,'Potential (V vs RHE)',{'font-size':18});
const g=E('g',{'clip-path':'url(#ck)'});
const ox=1060,oy=920;
cur(sm(Z([[430,740],[440,685],[455,620],[470,540],[490,450],[515,380],[545,310],[580,250],[620,200],[670,165],[730,150],[780,145]],ox,oy)),'#f7c19a',2.6,{'stroke-dasharray':'2.5 7','stroke-linecap':'round'},g);
cur(sm(Z([[440,778],[450,700],[465,620],[490,520],[520,440],[560,360],[610,290],[660,230],[720,185],[790,155],[880,142],[1115,137]],ox,oy)),'#f3923c',2.4,{},g);
cur(sm(Z([[210,575],[219,520],[228,470],[240,420],[251,375],[264,330],[281,283],[304,237],[340,200],[380,175],[435,158],[515,148],[600,142],[700,138]],ox,oy)),'#1a5e8e',2.6,{'stroke-dasharray':'2.5 7','stroke-linecap':'round'},g);
cur(sm(Z([[213,640],[220,560],[230,480],[245,400],[265,330],[290,270],[320,220],[360,185],[410,160],[480,145],[560,140],[700,137],[1115,137]],ox,oy)),'#1a5e8e',2.4,{},g);
leg(1288,1318,1071,'#1a5e8e',3);LT(1325,1075.5,'HT-COFs');
leg(1288,1318,1089,'#1a5e8e',3,{'stroke-dasharray':'3 8'});LT(1325,1093.5,'HT-COFs');
LT(1330,1112.5,'after 1000 cycles');
leg(1288,1318,1127,'#f3923c',3);LT(1325,1131.5,'Pd/HT-COFs');
leg(1288,1318,1146,'#f7c19a',3,{'stroke-dasharray':'3 8'});LT(1325,1150.5,'Pd/HT-COFs');
LT(1330,1169.5,'after 1000 cycles');
})();
})();
</script>
</body></html>
